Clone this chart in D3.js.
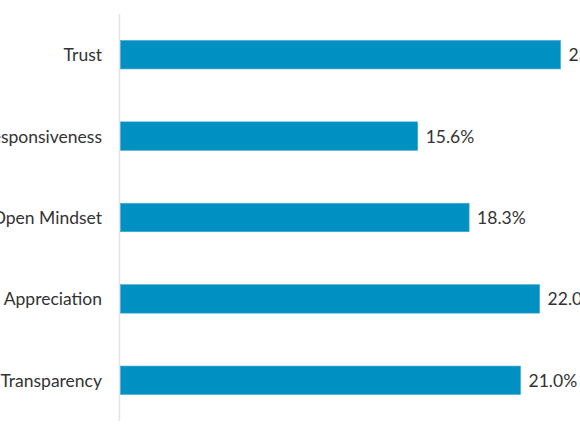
<!DOCTYPE html>
<html>
<head>
    <meta charset='utf-8'>
    <title>Bar chart</title>
    <style>
    body {
      margin: 0;
      background: #fff;
      font-family: 'Lato', sans-serif;
      overflow: hidden;
    }
    </style>
    <script src='https://d3js.org/d3.v7.min.js'></script>
</head>
<body>
<div id="container"></div>
<script>
// ******* Data *******
const categories = ["Trust", "Responsiveness", "Open Mindset", "Appreciation", "Transparency"];
const values = [23.1, 15.6, 18.3, 22.0, 21.0];

// ******* Constants *******
const width = 580,
      height = 435,
      fontsize = 17.5;

// zero sits at x=120, about 19 px per percent
var x = d3.scaleLinear()
    .domain([0, 25])
    .range([120.5, 120.5 + 25 * 19.05]);

var y = d3.scaleBand()
    .domain(categories)
    .range([14, 421])
    .paddingInner(0.65)
    .paddingOuter(0.325);

var svg = d3.select("#container").append("svg")
    .attr("width", width)
    .attr("height", height)
    .style("display", "block");

// vertical baseline
svg.append("line")
    .attr("x1", 119.5).attr("x2", 119.5)
    .attr("y1", 14).attr("y2", 421)
    .attr("stroke", "#e3e3e3")
    .attr("stroke-width", 1.5);

var rows = categories.map(function(c, i) { return {name: c, value: values[i]}; });

svg.selectAll("rect.bar")
    .data(rows)
    .enter()
    .append("rect")
    .attr("class", "bar")
    .attr("x", x(0))
    .attr("y", function(d) { return y(d.name); })
    .attr("width", function(d) { return x(d.value) - x(0); })
    .attr("height", y.bandwidth())
    .attr("fill", "#0090c1")
    .attr("stroke", "#3fa9d6")
    .attr("stroke-width", 0.6);

// category labels
svg.selectAll("text.cat")
    .data(rows)
    .enter()
    .append("text")
    .attr("class", "cat")
    .text(function(d) { return d.name; })
    .attr("x", 102)
    .attr("y", function(d) { return y(d.name) + y.bandwidth() / 2; })
    .attr("text-anchor", "end")
    .attr("dominant-baseline", "central")
    .attr("font-size", fontsize)
    .attr("fill", "#333");

// value labels
svg.selectAll("text.val")
    .data(rows)
    .enter()
    .append("text")
    .attr("class", "val")
    .text(function(d) { return d.value.toFixed(1) + "%"; })
    .attr("x", function(d) { return x(d.value) + 8; })
    .attr("y", function(d) { return y(d.name) + y.bandwidth() / 2; })
    .attr("dominant-baseline", "central")
    .attr("font-size", fontsize)
    .attr("fill", "#333");
</script>
</body>
</html>
